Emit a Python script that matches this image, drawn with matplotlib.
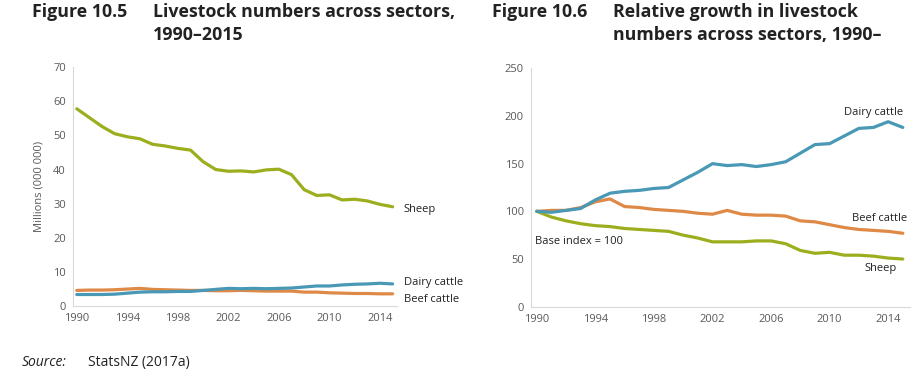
import matplotlib
matplotlib.use("Agg")
import matplotlib.pyplot as plt

years = list(range(1990, 2016))

# Figure 10.5 - millions of animals
sheep_m = [57.8, 55.2, 52.6, 50.5, 49.6, 49.0, 47.4, 46.9, 46.2, 45.7, 42.3, 40.0, 39.5,
           39.6, 39.3, 39.9, 40.1, 38.5, 34.1, 32.4, 32.6, 31.1, 31.3, 30.8, 29.8, 29.1]
dairy_m = [3.4, 3.4, 3.4, 3.5, 3.8, 4.1, 4.2, 4.2, 4.3, 4.3, 4.6, 4.9, 5.2,
           5.1, 5.2, 5.1, 5.2, 5.3, 5.6, 5.9, 5.9, 6.2, 6.4, 6.5, 6.7, 6.5]
beef_m = [4.6, 4.7, 4.7, 4.8, 5.0, 5.2, 4.9, 4.8, 4.7, 4.6, 4.6, 4.5, 4.5,
          4.6, 4.5, 4.4, 4.4, 4.4, 4.1, 4.1, 3.9, 3.8, 3.7, 3.7, 3.6, 3.6]

# Figure 10.6 - index, 1990 = 100
dairy_idx = [100, 99, 101, 103, 112, 119, 121, 122, 124, 125, 133, 141, 150,
             148, 149, 147, 149, 152, 161, 170, 171, 179, 187, 188, 194, 188]
beef_idx = [100, 101, 101, 104, 110, 113, 105, 104, 102, 101, 100, 98, 97,
            101, 97, 96, 96, 95, 90, 89, 86, 83, 81, 80, 79, 77]
sheep_idx = [100, 94, 90, 87, 85, 84, 82, 81, 80, 79, 75, 72, 68,
             68, 68, 69, 69, 66, 59, 56, 57, 54, 54, 53, 51, 50]

xticks = [1990, 1994, 1998, 2002, 2006, 2010, 2014]

GREEN = "#9cae1e"
BLUE = "#4898b6"
ORANGE = "#df8947"
TICK = "#595959"
TEXT = "#222222"

plt.rcParams["font.family"] = ["Open Sans", "DejaVu Sans"]

fig = plt.figure(figsize=(9.18, 3.77), dpi=100)
ax1 = fig.add_axes([0.0795, 0.188, 0.353, 0.634])
ax2 = fig.add_axes([0.5784, 0.1865, 0.413, 0.6323])


def style(ax, xlim, ymax, step):
    ax.set_xlim(*xlim)
    ax.set_ylim(0, ymax)
    ax.set_xticks(xticks)
    ax.set_yticks(range(0, ymax + 1, step))
    for s in ("top", "right"):
        ax.spines[s].set_visible(False)
    for s in ("left", "bottom"):
        ax.spines[s].set_color("#d9d9d9")
        ax.spines[s].set_linewidth(0.8)
    ax.tick_params(length=0, labelsize=8, colors=TICK, pad=5)


lw = 2.3
ax1.plot(years, sheep_m, color=GREEN, lw=lw, solid_capstyle="round")
ax1.plot(years, beef_m, color=ORANGE, lw=lw, solid_capstyle="round")
ax1.plot(years, dairy_m, color=BLUE, lw=lw, solid_capstyle="round")
style(ax1, (1989.7, 2015.35), 70, 10)
ax1.set_ylabel("Millions (000 000)", fontsize=8, color=TICK, labelpad=6)
ax1.text(2015.9, 28.2, "Sheep", fontsize=8, color=TEXT, va="center")
ax1.text(2015.9, 7.0, "Dairy cattle", fontsize=8, color=TEXT, va="center")
ax1.text(2015.9, 2.0, "Beef cattle", fontsize=8, color=TEXT, va="center")

ax2.plot(years, sheep_idx, color=GREEN, lw=lw, solid_capstyle="round")
ax2.plot(years, beef_idx, color=ORANGE, lw=lw, solid_capstyle="round")
ax2.plot(years, dairy_idx, color=BLUE, lw=lw, solid_capstyle="round")
style(ax2, (1989.6, 2015.5), 250, 50)
ax2.text(2011.0, 204, "Dairy cattle", fontsize=8, color=TEXT, va="center")
ax2.text(2011.5, 92, "Beef cattle", fontsize=8, color=TEXT, va="center")
ax2.text(2012.4, 40.5, "Sheep", fontsize=8, color=TEXT, va="center")
ax2.text(1989.9, 68, "Base index = 100", fontsize=8, color=TEXT, va="center")

# titles: two lines, each placed on its own baseline
y1 = 1 - 17 / 377
y2 = 1 - 40 / 377
tkw = dict(fontsize=12.8, fontweight="bold", color=TEXT, va="baseline")
fig.text(32 / 918, y1, "Figure 10.5", **tkw)
fig.text(153 / 918, y1, "Livestock numbers across sectors,", **tkw)
fig.text(153 / 918, y2, "1990\u20132015", **tkw)
fig.text(492 / 918, y1, "Figure 10.6", **tkw)
fig.text(613 / 918, y1, "Relative growth in livestock", **tkw)
fig.text(613 / 918, y2, "numbers across sectors, 1990\u2013", **tkw)

fig.text(22 / 918, 1 - 366 / 377, "Source:", fontsize=10, style="italic",
         color=TEXT, va="baseline")
fig.text(88 / 918, 1 - 366 / 377, "StatsNZ (2017a)", fontsize=10,
         color=TEXT, va="baseline")

fig.savefig("out.png", dpi=100, facecolor="white")
